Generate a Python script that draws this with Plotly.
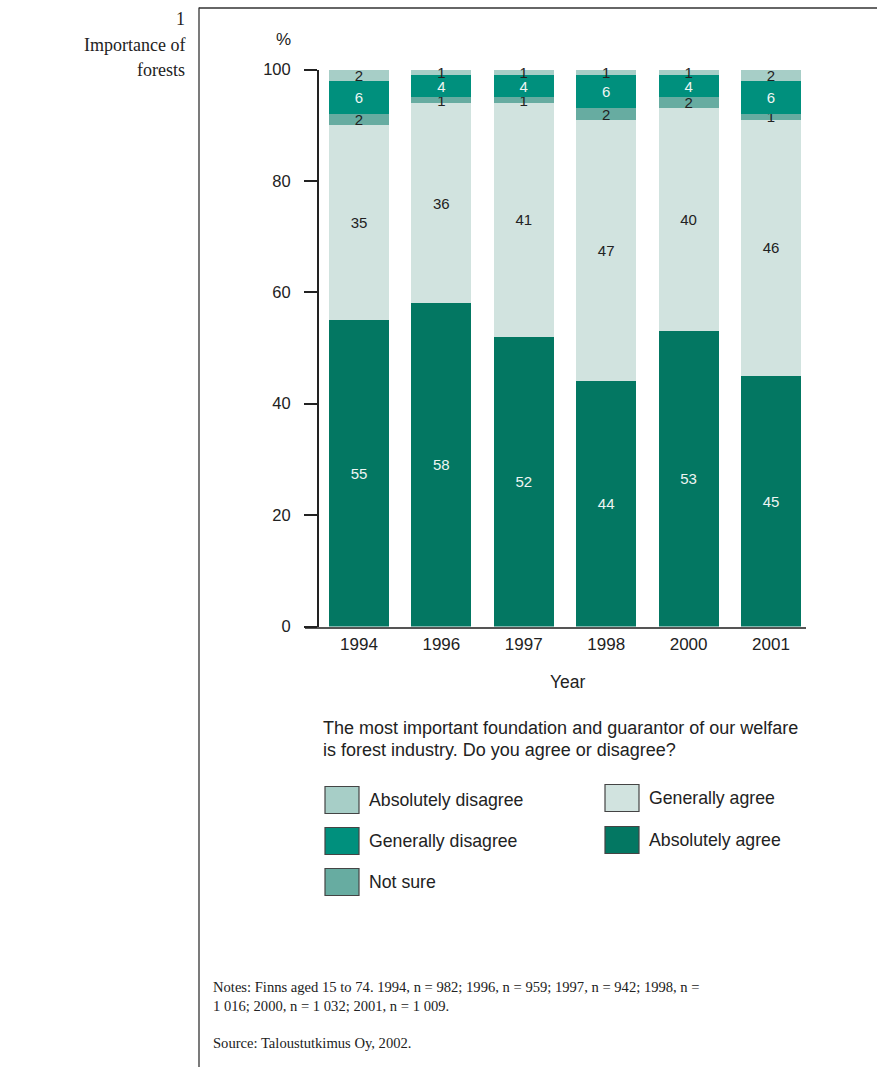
import plotly.graph_objects as go

W, H = 877, 1067

years = ["1994", "1996", "1997", "1998", "2000", "2001"]
abs_agree = [55, 58, 52, 44, 53, 45]
gen_agree = [35, 36, 42, 47, 40, 46]          # drawn height (1997 bar is drawn to 100)
gen_agree_labels = [35, 36, 41, 47, 40, 46]   # printed labels
not_sure = [2, 1, 1, 2, 2, 1]
gen_disagree = [6, 4, 4, 6, 4, 6]
abs_disagree = [2, 1, 1, 1, 1, 2]

C_ABS_AGREE = "#037762"
C_GEN_AGREE = "#d1e3df"
C_NOT_SURE = "#67aca1"
C_GEN_DIS = "#00907d"
C_ABS_DIS = "#a7cec7"

DARK_TXT = "#222222"
LIGHT_TXT = "#eef5f3"
SANS = "Liberation Sans, Arial, sans-serif"
SERIF = "Liberation Serif, Times New Roman, serif"

# rendered page: figure appears slightly offset from top with ~1049px effective height
TOP_OFF, H_EFF = 9.5, 1049


def px(x):
    return x / W


def py(y):
    return 1 - (y - TOP_OFF) / H_EFF


series = [
    ("Absolutely agree", abs_agree, [str(v) for v in abs_agree], C_ABS_AGREE, LIGHT_TXT),
    ("Generally agree", gen_agree, [str(v) for v in gen_agree_labels], C_GEN_AGREE, DARK_TXT),
    ("Not sure", not_sure, [str(v) for v in not_sure], C_NOT_SURE, DARK_TXT),
    ("Generally disagree", gen_disagree, [str(v) for v in gen_disagree], C_GEN_DIS, LIGHT_TXT),
    ("Absolutely disagree", abs_disagree, [str(v) for v in abs_disagree], C_ABS_DIS, DARK_TXT),
]

fig = go.Figure()
for name, vals, labels, color, tcol in series:
    fig.add_trace(go.Bar(
        x=years, y=vals, name=name, text=labels,
        textposition="inside", insidetextanchor="middle", textangle=0,
        textfont=dict(family=SANS, size=15, color=tcol),
        marker=dict(color=color, line=dict(width=0)),
        cliponaxis=False, showlegend=False,
    ))

fig.update_layout(
    width=W, height=H,
    margin=dict(l=0, r=0, t=0, b=0),
    paper_bgcolor="white", plot_bgcolor="white",
    barmode="stack", bargap=0.272,
    uniformtext=dict(minsize=15, mode="show"),
    font=dict(family=SANS, color=DARK_TXT),
    xaxis=dict(
        domain=[px(305), px(806)], anchor="y", type="category",
        range=[-0.655, 5.425], showgrid=False, zeroline=False,
        showline=True, linecolor="#555555", linewidth=1.5,
        ticks="", tickfont=dict(family=SANS, size=17, color=DARK_TXT),
        ticklabelstandoff=1,
    ),
    yaxis=dict(
        domain=[py(627), py(70)], anchor="free", position=px(318),
        range=[0, 100], tickvals=[0, 20, 40, 60, 80, 100],
        showgrid=False, zeroline=False,
        showline=True, linecolor="#222222", linewidth=2,
        ticks="outside", ticklen=13, tickwidth=2, tickcolor="#222222",
        tickfont=dict(family=SANS, size=16.5, color=DARK_TXT),
        ticklabelstandoff=10,
    ),
)

shapes = [
    dict(type="line", xref="paper", yref="paper", x0=px(199), x1=px(199), y0=py(8), y1=py(1080),
         line=dict(color="#333333", width=1.3)),
    dict(type="line", xref="paper", yref="paper", x0=px(199), x1=px(877), y0=py(8.5), y1=py(8.5),
         line=dict(color="#333333", width=1.3)),
]

annotations = [
    dict(text="1", x=px(187), y=py(20)),
    dict(text="Importance of", x=px(187), y=py(45)),
    dict(text="forests", x=px(187), y=py(70)),
]
for a in annotations:
    a.update(xref="paper", yref="paper", xanchor="right", yanchor="middle", showarrow=False,
             font=dict(family=SERIF, size=18, color="#222222"))


def txt(text, x, y, size=16, xanchor="left", family=SANS):
    annotations.append(dict(text=text, x=px(x), y=py(y), xref="paper", yref="paper",
                            xanchor=xanchor, yanchor="middle", showarrow=False,
                            font=dict(family=family, size=size, color=DARK_TXT)))


txt("%", 283, 40, size=17, xanchor="center")
txt("Year", 568, 682, size=17.5, xanchor="center")
txt("The most important foundation and guarantor of our welfare", 321, 728, size=18)
txt("is forest industry. Do you agree or disagree?", 321, 750, size=18)

legend_items = [
    ("Absolutely disagree", C_ABS_DIS, 325, 787),
    ("Generally disagree", C_GEN_DIS, 325, 828),
    ("Not sure", C_NOT_SURE, 325, 869),
    ("Generally agree", C_GEN_AGREE, 605, 785),
    ("Absolutely agree", C_ABS_AGREE, 605, 827),
]
for name, color, x0, y0 in legend_items:
    shapes.append(dict(type="rect", xref="paper", yref="paper",
                       x0=px(x0), x1=px(x0 + 34), y0=py(y0), y1=py(y0 + 27),
                       fillcolor=color, line=dict(color="#444444", width=1.2)))
    txt(name, x0 + 42, y0 + 13, size=17.7)

txt("Notes: Finns aged 15 to 74. 1994, n = 982; 1996, n = 959; 1997, n = 942; 1998, n =",
    211, 987, size=14.6, family=SERIF)
txt("1 016; 2000, n = 1 032; 2001, n = 1 009.", 211, 1006, size=14.6, family=SERIF)
txt("Source: Taloustutkimus Oy, 2002.", 211, 1043, size=14.6, family=SERIF)

fig.update_layout(shapes=shapes, annotations=annotations)
fig.write_html("out.html")
